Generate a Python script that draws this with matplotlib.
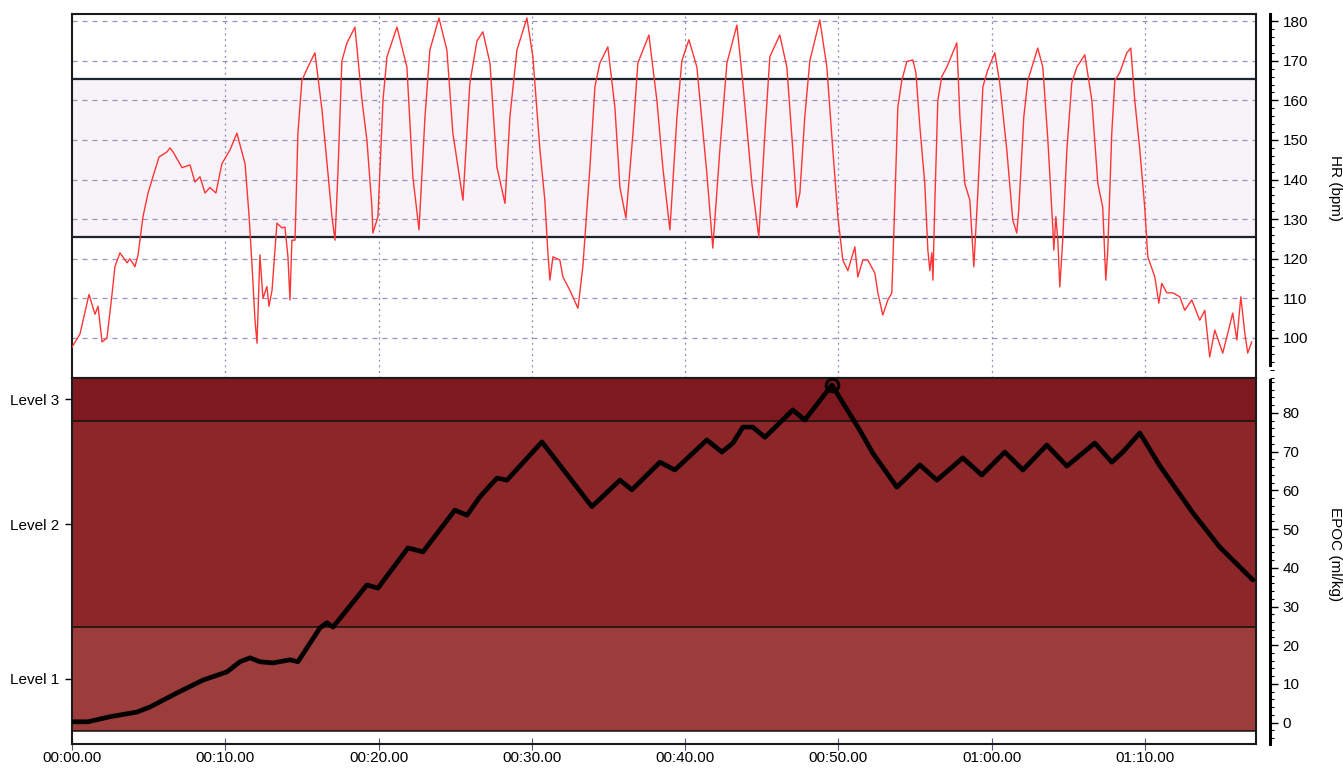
import numpy as np
import matplotlib
matplotlib.use("Agg")
from matplotlib import pyplot as plt
from matplotlib.ticker import FuncFormatter, MultipleLocator

plt.rcParams['font.family'] = ['Liberation Sans', 'DejaVu Sans']

# heart rate trace (minutes, bpm)
hr_time = [0.00, 0.52, 1.11, 1.50, 1.70, 1.96, 2.28, 2.61, 2.80, 3.13,
           3.59, 3.78, 4.11, 4.31, 4.63, 4.96, 5.28, 5.68, 6.20, 6.39,
           6.59, 7.18, 7.70, 8.02, 8.35, 8.68, 9.00, 9.39, 9.78, 10.31,
           10.76, 11.29, 11.55, 11.75, 11.94, 12.07, 12.26, 12.46, 12.72, 12.85,
           13.05, 13.37, 13.70, 13.89, 14.09, 14.22, 14.35, 14.55, 14.74, 15.00,
           15.39, 15.85, 16.31, 16.70, 16.96, 17.16, 17.35, 17.61, 17.94, 18.46,
           18.92, 19.24, 19.57, 19.63, 19.96, 20.29, 20.55, 21.20, 21.85, 22.24,
           22.64, 23.03, 23.35, 23.94, 24.46, 24.85, 25.51, 25.96, 26.42, 26.81,
           27.27, 27.72, 28.25, 28.57, 29.03, 29.68, 30.07, 30.53, 30.85, 31.05,
           31.18, 31.38, 31.83, 32.03, 32.49, 33.01, 33.33, 33.79, 34.12, 34.44,
           34.96, 35.42, 35.75, 36.14, 36.60, 36.92, 37.64, 38.16, 38.55, 39.01,
           39.47, 39.79, 40.25, 40.77, 41.42, 41.81, 42.27, 42.73, 43.38, 43.77,
           44.36, 44.81, 45.21, 45.53, 46.18, 46.64, 47.03, 47.29, 47.49, 47.81,
           48.14, 48.79, 49.25, 49.64, 49.97, 50.29, 50.62, 51.08, 51.27, 51.60,
           51.92, 52.38, 52.58, 52.90, 53.23, 53.49, 53.69, 53.88, 54.14, 54.47,
           54.86, 55.06, 55.32, 55.64, 55.84, 55.97, 56.10, 56.17, 56.30, 56.49,
           56.75, 57.08, 57.73, 57.93, 58.25, 58.58, 58.84, 59.10, 59.43, 59.75,
           60.21, 60.53, 60.99, 61.38, 61.64, 61.77, 62.10, 62.36, 63.01, 63.34,
           63.67, 63.99, 64.06, 64.19, 64.32, 64.45, 64.64, 64.91, 65.23, 65.56,
           66.08, 66.54, 66.93, 67.25, 67.45, 67.58, 67.84, 68.04, 68.36, 68.82,
           69.08, 69.34, 69.67, 69.99, 70.19, 70.65, 70.91, 71.10, 71.43, 71.82,
           72.28, 72.60, 73.06, 73.58, 73.91, 74.23, 74.56, 75.08, 75.41, 75.73,
           76.00, 76.26, 76.52, 76.71, 76.97]
hr_bpm = [97.7, 101, 111, 106, 108, 99, 100, 111, 118, 121.5,
          119, 120, 118, 121, 130.6, 136.6, 140.7, 145.7, 147, 148,
          147, 143, 143.7, 139.4, 140.7, 136.6, 138, 136.6, 144, 147.5,
          151.7, 144, 131, 118, 104.5, 98.7, 121, 110, 113, 108,
          112, 129, 127.8, 128, 120.5, 109.6, 124.7, 124.7, 151.7, 165,
          168.4, 172, 157.6, 141.6, 130.6, 124.7, 141.6, 170, 174.5, 178.5,
          160, 150, 133, 126.5, 130.6, 160, 171, 178.5, 168.4, 140.7,
          127.3, 155.8, 172.7, 180.8, 172.7, 151.7, 134.8, 164.4, 175, 177.3,
          169.4, 143.2, 134, 155.8, 172.7, 180.8, 171, 147.5, 134.8, 121.5,
          114.6, 120.5, 119.7, 115.4, 112, 107.5, 118, 143, 163.5, 169.4,
          173.5, 158.3, 138, 130.3, 151.7, 169.4, 176.5, 160, 143, 127.3,
          155.8, 170, 175.3, 168.4, 141.6, 122.7, 147.5, 169.4, 179, 164.4,
          139, 125.5, 151.7, 171, 176.5, 168.4, 147.5, 133, 136.6, 155.8,
          170, 180.3, 168.4, 147.5, 130.6, 119.7, 117, 123, 115.4, 119.7,
          119.7, 116.4, 111.4, 105.8, 109.6, 111.4, 134.8, 158.3, 165, 169.8,
          170.2, 167, 153.3, 139, 122.2, 117, 121.5, 114.6, 134.8, 160,
          166, 168.4, 174.5, 155.8, 139, 134.8, 118, 136.6, 163.4, 167.7,
          172, 164.4, 147.5, 129.8, 126.5, 132.3, 155.8, 165, 173.2, 168.4,
          150, 128, 122.2, 130.6, 124.7, 112.9, 124.7, 147.5, 164.4, 168.4,
          171.5, 160, 139, 133, 114.6, 122.2, 151.7, 165, 167, 172,
          173.2, 160, 147.5, 133, 120.5, 115.4, 108.8, 113.8, 111.4, 111.4,
          110.4, 107, 109.6, 104.5, 107, 95.2, 102, 96.2, 101.2, 106.3,
          99.5, 110.4, 101.2, 96.2, 99]

# EPOC trace (minutes, ml/kg)
epoc_time = [0.0, 1.04, 2.48, 4.24, 5.09, 6.85, 8.55, 10.11, 10.96, 11.61,
             12.26, 13.11, 14.22, 14.74, 16.18, 16.63, 17.03, 19.24, 19.96, 21.92,
             22.90, 24.98, 25.77, 26.61, 27.72, 28.38, 30.66, 33.92, 35.75, 36.53,
             38.36, 39.33, 41.42, 42.40, 43.12, 43.77, 44.42, 45.21, 47.03, 47.81,
             49.58, 51.40, 52.25, 53.82, 55.32, 56.43, 58.12, 59.36, 60.86, 62.04,
             63.60, 64.91, 66.73, 67.84, 68.56, 69.67, 70.97, 73.13, 74.89, 77.04]
epoc_val = [0.8, 0.8, 2.1, 3.3, 4.6, 8.2, 11.5, 13.6, 16.2, 17.2,
            16.2, 15.9, 16.7, 16.2, 24.9, 26.2, 25.1, 35.9, 35.1, 45.4,
            44.4, 55.1, 53.8, 58.5, 63.3, 62.8, 72.6, 56.0, 62.8, 60.3,
            67.4, 65.4, 73.1, 70.0, 72.3, 76.4, 76.4, 73.8, 80.8, 78.2,
            87.2, 75.6, 69.7, 61.0, 66.7, 62.8, 68.5, 64.1, 70.0, 65.4,
            71.8, 66.4, 72.3, 67.4, 70.0, 74.9, 66.5, 54.4, 45.6, 37.2]

# HR zone limits and EPOC level bands
hr_zone = [125.5, 165.5]
level_edges = [-1.5, 25, 78, 89]
level_names = ["Level 1", "Level 2", "Level 3"]
level_colors = ["#9c3d3c", "#8c2629", "#7e1a1f"]

t_max = 77.25
W, H = 1343, 769

fig = plt.figure(figsize=(W / 100, H / 100), dpi=100)
ax_hr = fig.add_axes([72 / W, 1 - 378 / H, (1256 - 72) / W, (378 - 14) / H])
ax_ep = fig.add_axes([72 / W, 1 - 744 / H, (1256 - 72) / W, (744 - 378) / H])


def fmt_time(m, pos):
    m = int(round(m))
    return "%02d:%02d.00" % (m // 60, m % 60)


# ---- heart rate panel
ax_hr.set_xlim(0, t_max)
ax_hr.set_ylim(89.9, 181.8)
ax_hr.axhspan(hr_zone[0], hr_zone[1], color="#f7f3f8", zorder=0)
for v in range(100, 181, 10):
    ax_hr.axhline(v, color="#9d8fc6", lw=0.9, dashes=(4, 4), zorder=1)
for m in range(10, 71, 10):
    ax_hr.axvline(m, color="#8a8ab4", lw=0.9, dashes=(1.5, 3), zorder=1)
for v in hr_zone:
    ax_hr.axhline(v, color="#1c2430", lw=1.6, zorder=2)
ax_hr.plot(hr_time, hr_bpm, color="#ff3535", lw=1.0, zorder=3)
for s in ax_hr.spines.values():
    s.set_color("#1a1a1a")
    s.set_linewidth(1.5)

hr_axis = ax_hr.twinx()
hr_axis.spines["right"].set_position(("outward", 10))
hr_axis.spines["right"].set_linewidth(2.2)
for k in ("top", "left", "bottom"):
    hr_axis.spines[k].set_visible(False)
hr_axis.set_yticks(range(100, 181, 10))
hr_axis.yaxis.set_minor_locator(MultipleLocator(2))
hr_axis.tick_params(axis="y", which="major", length=6, width=1, labelsize=11, pad=3)
hr_axis.tick_params(axis="y", which="minor", length=3, width=0.8)
hr_axis.set_ylim(ax_hr.get_ylim())
hr_axis.spines["right"].set_bounds(93.3, 181.8)
# twinx turns the left ticks back on, so hide them afterwards
ax_hr.tick_params(left=False, bottom=False, labelleft=False, labelbottom=False)

# ---- EPOC panel
ax_ep.set_xlim(0, t_max)
ax_ep.set_ylim(-4.9, 89)
for lo, hi, c in zip(level_edges[:-1], level_edges[1:], level_colors):
    ax_ep.axhspan(lo, hi, color=c, lw=0, zorder=0)
for v in level_edges[:-1]:
    ax_ep.axhline(v, color="#111111", lw=1.1, zorder=1)
ax_ep.plot(epoc_time, epoc_val, color="black", lw=3.4,
           solid_joinstyle="round", solid_capstyle="round", zorder=3)
peak = int(np.argmax(epoc_val))
ax_ep.plot(epoc_time[peak], epoc_val[peak], "o", ms=9, mfc="none",
           mec="black", mew=2.2, zorder=4)

ep_axis = ax_ep.twinx()
ep_axis.spines["right"].set_position(("outward", 10))
ep_axis.spines["right"].set_linewidth(2.2)
for k in ("top", "left", "bottom"):
    ep_axis.spines[k].set_visible(False)
ep_axis.set_yticks(range(0, 81, 10))
ep_axis.yaxis.set_minor_locator(MultipleLocator(2))
ep_axis.tick_params(axis="y", which="major", length=6, width=1, labelsize=11, pad=3)
ep_axis.tick_params(axis="y", which="minor", length=3, width=0.8)
ep_axis.set_ylim(-5.5, 89)
ep_axis.spines["right"].set_bounds(-5.5, 88.5)

mids = [(lo + hi) / 2 for lo, hi in zip(level_edges[:-1], level_edges[1:])]
mids[0] = 11.8
ax_ep.set_yticks(mids)
ax_ep.set_yticklabels(level_names)
ax_ep.tick_params(axis="y", length=5, width=1, labelsize=11, pad=4)
ax_ep.set_xticks(range(0, 71, 10))
ax_ep.xaxis.set_major_formatter(FuncFormatter(fmt_time))
ax_ep.tick_params(axis="x", direction="inout", length=8, width=0.8,
                  labelsize=11, pad=1, color="#555577")
for s in ax_ep.spines.values():
    s.set_color("#1a1a1a")
    s.set_linewidth(1.5)

fig.text(1335 / W, 1 - 188 / H, "HR (bpm)", rotation=270,
         ha="center", va="center", fontsize=11)
fig.text(1335 / W, 1 - 554 / H, "EPOC (ml/kg)", rotation=270,
         ha="center", va="center", fontsize=11)

fig.savefig("out.png", dpi=100, facecolor="white")
